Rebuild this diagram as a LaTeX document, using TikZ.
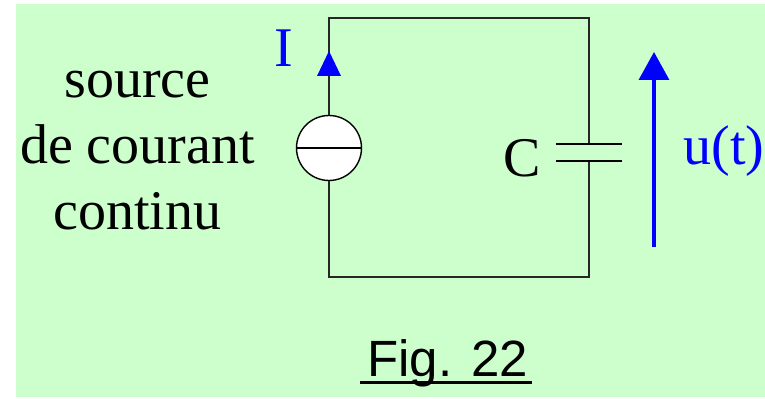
\documentclass[tikz,border=0pt]{standalone}
\usepackage{fontspec}
\setmainfont{Liberation Serif}
\setsansfont{Liberation Sans}
\usetikzlibrary{positioning,calc,arrows.meta}
\definecolor{bggreen}{HTML}{CCFFCC}
\newcommand{\txtsize}{\fontsize{28}{33}\selectfont}

\begin{document}
\begin{tikzpicture}[x=0.5pt,y=-0.5pt,
		wire/.style={draw=black!85,line width=0.65pt},
		lbl/.style={font=\txtsize,inner sep=0pt}]
		\useasboundingbox (0,0) rectangle (765,399);
		\fill[bggreen] (16,4) rectangle (765,397);
		
		% circuit corners
		\coordinate (tl) at (329,18);
		\coordinate (tr) at (589,18);
		\coordinate (br) at (589,277);
		\coordinate (bl) at (329,277);
		\coordinate (cp1) at (589,144);
		\coordinate (cp2) at (589,161);
		
		\node[draw,circle,fill=white,line width=0.7pt,minimum size=32.5pt,inner sep=0pt] (src) at (329,148) {};
		\draw[line width=0.7pt] (src.west) -- (src.east);
		
		\draw[wire] (src.north) -- (tl) -- (tr) -- (cp1);
		\draw[wire] (cp2) -- (br) -- (bl) -- (src.south);
		
		% capacitor plates
		\draw[line width=0.7pt] ([xshift=-16.5pt]cp1) -- ([xshift=16.5pt]cp1);
		\draw[line width=0.7pt] ([xshift=-16.5pt]cp2) -- ([xshift=16.5pt]cp2);
		
		% current arrow
		\fill[blue] (317,76) -- (341,76) -- (329,51) -- cycle;
		\node[lbl,blue,anchor=base] (cur) at (284,67) {I};
		
		% voltage arrow
		\coordinate (ubot) at (654,247);
		\coordinate (utop) at (654,52);
		\draw[blue,line width=1.7pt,-{Triangle[length=14pt,width=15pt]}] (ubot) -- (utop);
		\node[lbl,blue,anchor=base west] (volt) at (683,165) {u(t)};
		
		\node[lbl,anchor=base west] (cap) at (503,177) {C};
		
		\node[lbl,anchor=base] (s1) at (137.5,98) {source};
		\node[lbl,anchor=base] (s2) at (137.5,164) {de courant};
		\node[lbl,anchor=base] (s3) at (137.5,230) {continu};
		
		\node[font=\sffamily\fontsize{25.5}{30}\selectfont,inner sep=0pt,anchor=base west] (fig) at (367,377) {Fig. 22};
		\draw[line width=1.5pt] (360,382.5) -- (532,382.5);
	\end{tikzpicture}
\end{document}
